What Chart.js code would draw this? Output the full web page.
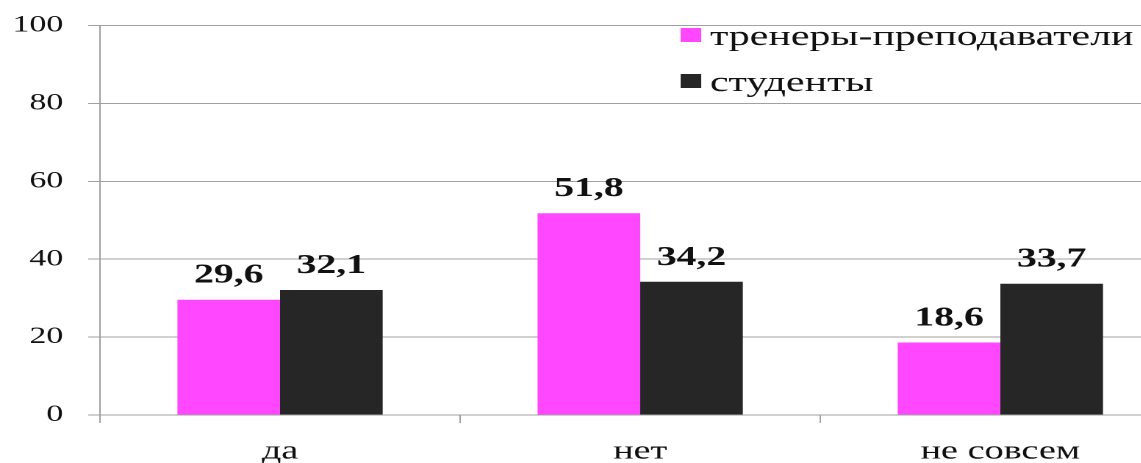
<!DOCTYPE html>
<html lang="ru">
<head>
<meta charset="UTF-8">
<title>Ответы</title>
<script src="https://cdn.jsdelivr.net/npm/chart.js"></script>
<style>
    html, body {
        margin: 0;
        padding: 0;
        background: #fff;
        overflow: hidden;
    }
    /* the chart is drawn narrow and stretched sideways */
    .wrap {
        width: 803px;
        height: 463px;
        transform: scaleX(1.47);
        transform-origin: 0 0;
    }
</style>
</head>
<body>
<div class="wrap">
    <canvas id="myChart"></canvas>
</div>

<script>
    const categories = ['да', 'нет', 'не совсем'];
    const seriesNames = ['тренеры-преподаватели', 'студенты'];
    const trainers = [29.6, 51.8, 18.6];
    const students = [32.1, 34.2, 33.7];
    const yTicks = [0, 20, 40, 60, 80, 100];

    const colors = ['#ff47ff', '#262626'];
    const serif = '"Liberation Serif", serif';

    // values over each bar, e.g. "29,6"
    const valueLabels = {
        id: 'valueLabels',
        afterDatasetsDraw(chart) {
            const ctx = chart.ctx;
            ctx.save();
            ctx.font = 'bold 27px ' + serif;
            ctx.fillStyle = '#111';
            ctx.textAlign = 'center';
            ctx.textBaseline = 'alphabetic';
            chart.data.datasets.forEach((ds, i) => {
                chart.getDatasetMeta(i).data.forEach((bar, j) => {
                    const txt = ds.data[j].toFixed(1).replace('.', ',');
                    ctx.fillText(txt, bar.x, bar.y - 17);
                });
            });
            ctx.restore();
        }
    };

    // legend sits inside the plot, top right
    const innerLegend = {
        id: 'innerLegend',
        afterDraw(chart) {
            const ctx = chart.ctx;
            ctx.save();
            ctx.font = '28.5px ' + serif;
            ctx.textBaseline = 'alphabetic';
            ctx.textAlign = 'left';
            chart.data.datasets.forEach((ds, i) => {
                const base = 45 + i * 46;
                ctx.fillStyle = ds.backgroundColor;
                ctx.fillRect(463, base - 17, 14, 14);
                ctx.fillStyle = '#111';
                ctx.fillText(ds.label, 483, base);
            });
            ctx.restore();
        }
    };

    const ctx = document.getElementById('myChart').getContext('2d');
    const myChart = new Chart(ctx, {
        type: 'bar',
        data: {
            labels: categories,
            datasets: [
                {
                    label: seriesNames[0],
                    data: trainers,
                    backgroundColor: colors[0]
                },
                {
                    label: seriesNames[1],
                    data: students,
                    backgroundColor: colors[1]
                }
            ]
        },
        options: {
            responsive: true,
            maintainAspectRatio: false,
            animation: false,
            devicePixelRatio: 2,
            layout: {
                padding: 0
            },
            plugins: {
                legend: { display: false },
                tooltip: { enabled: false }
            },
            datasets: {
                bar: {
                    categoryPercentage: 0.57,
                    barPercentage: 1
                }
            },
            scales: {
                x: {
                    afterFit(scale) { scale.height = 48; },
                    grid: {
                        offset: true,
                        drawOnChartArea: false,
                        tickLength: 8,
                        color: '#a0a0a0'
                    },
                    border: { color: '#a0a0a0' },
                    ticks: {
                        color: '#111',
                        padding: 13,
                        maxRotation: 0,
                        font: { family: serif, size: 26 }
                    }
                },
                y: {
                    min: 0,
                    max: 100,
                    afterFit(scale) { scale.width = 68; },
                    afterBuildTicks(scale) {
                        scale.ticks = yTicks.map(v => ({ value: v }));
                    },
                    grid: {
                        color: '#a0a0a0',
                        tickLength: 8
                    },
                    border: { color: '#a0a0a0' },
                    ticks: {
                        color: '#111',
                        padding: 17,
                        // small line height keeps the top of the plot at 25px
                        font: { family: serif, size: 23, lineHeight: 0.74 }
                    }
                }
            }
        },
        plugins: [valueLabels, innerLegend]
    });
</script>
</body>
</html>
